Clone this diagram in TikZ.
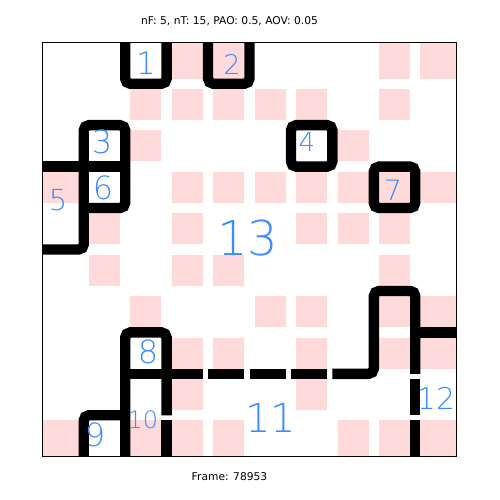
\documentclass[tikz,border=0pt]{standalone}
\usepackage{fontspec}
\setmainfont{DejaVu Sans}
\newfontfamily\handfont{DejaVu Sans ExtraLight}
\definecolor{cellpink}{RGB}{255,218,218}
\definecolor{inkblue}{RGB}{60,140,255}

\begin{document}
\begin{tikzpicture}[
  wall/.style={line width=10.36pt, line cap=butt, rounded corners=5.18pt},
  cell/.style={fill=cellpink},
  tag/.style={text=inkblue, font=\handfont\fontsize{#1}{#1}\selectfont, inner sep=0pt},
  tag/.default=30,
  caption/.style={font=\fontsize{10.7}{12}\selectfont, inner sep=0pt}
]
  \useasboundingbox (0,0) rectangle (500pt,-500pt);
  \node[caption] (title) at (229.5pt,-21pt) {nF: 5, nT: 15, PAO: 0.5, AOV: 0.05};
  \node[caption] (frameno) at (229.5pt,-477pt) {Frame: 78953};

  \begin{scope}[x=5.18pt, y=-5.18pt, shift={(42.3pt,-42.3pt)}]
    % pink cells of the 10x10 grid
    \foreach \c/\r in {3/0,4/0,8/0,9/0,
                       2/1,3/1,4/1,5/1,6/1,8/1,
                       2/2,7/2,
                       0/3,3/3,4/3,5/3,6/3,7/3,8/3,9/3,
                       1/4,3/4,6/4,7/4,8/4,
                       1/5,3/5,4/5,8/5,
                       2/6,5/6,6/6,8/6,9/6,
                       3/7,4/7,6/7,8/7,9/7,
                       3/8,6/8,
                       0/9,2/9,3/9,4/9,7/9,8/9,9/9} {
      \pgfmathsetmacro\xa{ifthenelse(\c==0,0,8*\c+1)}
      \pgfmathsetmacro\xb{ifthenelse(\c==9,80,8*\c+7)}
      \pgfmathsetmacro\ya{ifthenelse(\r==0,0,8*\r+1)}
      \pgfmathsetmacro\yb{ifthenelse(\r==9,80,8*\r+7)}
      \fill[cell] (\xa,\ya) rectangle (\xb,\yb);
    }

    % walls
    \draw[wall] (16,0) -- (16,8) -- (24,8) -- (24,0);
    \draw[wall] (32,0) -- (32,8) -- (40,8) -- (40,0);
    \draw[wall] (0,40) -- (8,40) -- (8,16) -- (16,16) -- (16,32) -- (8,32);
    \draw[wall] (0,24) -- (16,24);
    \draw[wall] (48,16) -- (56,16) -- (56,24) -- (48,24) -- cycle;
    \draw[wall] (64,24) -- (72,24) -- (72,32) -- (64,32) -- cycle;
    \draw[wall] (16,80) -- (16,56) -- (24,56) -- (24,72);
    \draw[wall] (24,73) -- (24,80);
    \draw[wall] (8,80) -- (8,72) -- (16,72);
    \draw[wall] (16,64) -- (31,64);
    \draw[wall] (32,64) -- (39,64);
    \draw[wall] (40,64) -- (47,64);
    \draw[wall] (48,64) -- (55,64);
    \draw[wall] (56,64) -- (64,64) -- (64,48) -- (72,48) -- (72,64);
    \draw[wall] (72,65) -- (72,72);
    \draw[wall] (72,73) -- (72,80);
    \draw[wall] (72,56) -- (80,56);

    % frame
    \draw[line width=1pt] (0,0) rectangle (80,80);
  \end{scope}

  % region numbers
  \node[tag=31] (n1) at (146pt,-63pt) {1};
  \node[tag=27] (n2) at (232pt,-64pt) {2};
  \node[tag=32] (n3) at (102pt,-142pt) {3};
  \node[tag=26] (n4) at (307pt,-142pt) {4};
  \node[tag=29] (n5) at (58pt,-200pt) {5};
  \node[tag=32] (n6) at (103pt,-188pt) {6};
  \node[tag=28] (n7) at (393pt,-190pt) {7};
  \node[tag=32] (n8) at (148pt,-352pt) {8};
  \node[tag=32] (n9) at (95pt,-435pt) {9};
  \node[tag=24] (n10) at (143pt,-420pt) {10};
  \node[tag=40] (n11) at (271pt,-418pt) {11};
  \node[tag=30] (n12) at (436pt,-398pt) {12};
  \node[tag=48] (n13) at (248pt,-238pt) {13};
\end{tikzpicture}
\end{document}
